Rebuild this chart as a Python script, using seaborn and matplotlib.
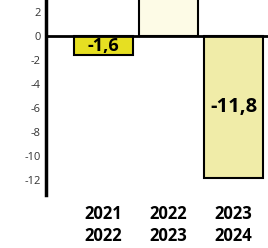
import matplotlib
matplotlib.use("Agg")
import matplotlib.pyplot as plt
import seaborn as sns
import pandas as pd

# Data (middle bar runs past the top, value estimated)
periods = ["2021\n2022", "2022\n2023", "2023\n2024"]
values = [-1.6, 6.0, -11.8]
labels = ["-1,6", "", "-11,8"]
bar_colors = ["#e6df22", "#fdfbe6", "#f0eca8"]
yticks = [2, 0, -2, -4, -6, -8, -10, -12]

df = pd.DataFrame({"period": periods, "value": values})

sns.set_style("white")
plt.rcParams["font.family"] = ["Open Sans", "DejaVu Sans"]

fig = plt.figure(figsize=(2.68, 2.48), dpi=100)
ax = fig.add_axes([0.172, 0.214, 0.828, 0.786])

sns.barplot(data=df, x="period", y="value", hue="period", palette=bar_colors,
            legend=False, width=0.9, edgecolor="black", linewidth=1.5,
            saturation=1, ax=ax)

# value labels centred in the bars
for i, (v, lab) in enumerate(zip(values, labels)):
    if lab:
        size = 13 if abs(v) < 5 else 14.5
        ax.text(i, v / 2, lab, ha="center", va="center",
                fontsize=size, fontweight="bold", color="black")

ax.axhline(0, color="black", linewidth=2)

ax.set_xlim(-0.885, 2.53)
ax.set_ylim(-13.2, 2.98)
ax.set_yticks(yticks)
ax.set_yticklabels([str(t) for t in yticks])
ax.tick_params(axis="y", direction="in", length=4, width=2, labelsize=8,
               labelcolor="#333333", pad=4)
ax.tick_params(axis="x", length=0, labelsize=12, pad=7.5, labelcolor="black")
for t in ax.get_xticklabels():
    t.set_fontweight("bold")
    t.set_linespacing(1.25)
ax.set_xlabel("")
ax.set_ylabel("")

for s in ["top", "right", "bottom"]:
    ax.spines[s].set_visible(False)
ax.spines["left"].set_linewidth(2.5)
ax.spines["left"].set_color("black")

fig.savefig("out.png", dpi=100)
